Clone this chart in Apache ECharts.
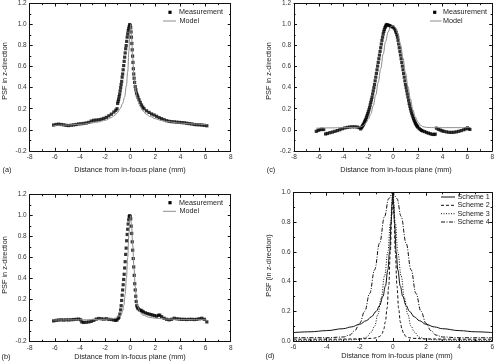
<!DOCTYPE html>
<html>
<head>
<meta charset="utf-8">
<script src="https://cdn.jsdelivr.net/npm/echarts@6/dist/echarts.min.js"></script>
<style>
  html, body { margin: 0; padding: 0; background: #fff; }
  #chart { width: 497px; height: 364px; }
</style>
</head>
<body>
<div id="chart"></div>
<script>
// (a) measurement / model
const measA = [
  [-6.1,0.045],[-5.9,0.05],[-5.7,0.053],[-5.5,0.05],[-5.3,0.047],[-5.1,0.042],[-4.9,0.04],[-4.7,0.043],
  [-4.5,0.046],[-4.3,0.05],[-4.1,0.055],[-3.9,0.057],[-3.7,0.06],[-3.5,0.064],[-3.3,0.07],[-3.1,0.083],
  [-2.9,0.09],[-2.7,0.092],[-2.5,0.095],[-2.3,0.1],[-2.1,0.108],[-1.9,0.118],[-1.7,0.132],[-1.5,0.148],
  [-1.3,0.168],[-1.15,0.185],[-1.05,0.2],
  [-1.0,0.25],[-0.96,0.27],[-0.92,0.29],[-0.88,0.315],[-0.84,0.34],[-0.8,0.37],[-0.76,0.4],[-0.72,0.43],
  [-0.68,0.46],[-0.64,0.5],[-0.6,0.53],[-0.56,0.57],[-0.52,0.61],[-0.48,0.65],[-0.44,0.69],[-0.4,0.73],
  [-0.36,0.77],[-0.32,0.8],[-0.28,0.84],[-0.24,0.88],[-0.2,0.91],[-0.16,0.94],[-0.12,0.96],[-0.08,0.98],
  [-0.04,1.0],[0,0.99],
  [0.04,0.97],[0.07,0.93],[0.1,0.88],[0.13,0.82],[0.16,0.76],[0.19,0.7],[0.22,0.64],[0.25,0.58],
  [0.28,0.53],[0.31,0.49],[0.35,0.45],[0.4,0.41],[0.45,0.38],[0.5,0.35],[0.56,0.33],[0.62,0.31],
  [0.7,0.285],[0.8,0.26],[0.9,0.235],[1.0,0.215],[1.1,0.2],[1.3,0.18],[1.5,0.165],[1.7,0.15],
  [1.9,0.14],[2.1,0.128],[2.3,0.115],[2.5,0.105],[2.7,0.095],[2.9,0.086],[3.1,0.08],[3.3,0.077],
  [3.5,0.075],[3.7,0.072],[3.9,0.07],[4.1,0.068],[4.3,0.066],[4.5,0.062],[4.7,0.058],[4.9,0.055],
  [5.1,0.05],[5.3,0.048],[5.5,0.047],[5.7,0.045],[5.9,0.042],[6.1,0.038]
];
const modelA = [
  [-6.1,0.04],[-5,0.045],[-4,0.052],[-3,0.065],[-2.5,0.075],[-2,0.09],[-1.5,0.115],[-1.2,0.14],
  [-1,0.165],[-0.8,0.2],[-0.6,0.25],[-0.45,0.31],[-0.3,0.42],[-0.2,0.55],[-0.1,0.75],[-0.03,0.93],
  [0.03,1.0],[0.1,0.9],[0.2,0.68],[0.3,0.5],[0.45,0.36],[0.6,0.28],[0.8,0.22],[1,0.18],[1.3,0.145],
  [1.6,0.125],[2,0.105],[2.5,0.088],[3,0.077],[4,0.063],[5,0.055],[6.1,0.048]
];

// (b) measurement / model
const measB = [
  [-6.1,-0.005],[-5.9,0.0],[-5.7,0.003],[-5.5,0.005],[-5.3,0.003],[-5.1,0.005],[-4.9,0.004],[-4.7,0.006],
  [-4.5,0.008],[-4.3,0.01],[-4.1,0.012],[-3.95,0.005],[-3.85,-0.015],[-3.7,-0.02],[-3.5,-0.018],[-3.3,-0.015],
  [-3.1,-0.01],[-2.9,0.0],[-2.7,0.012],[-2.5,0.018],[-2.3,0.015],[-2.1,0.012],[-1.9,0.015],[-1.7,0.01],
  [-1.5,0.008],[-1.3,0.003],[-1.15,0.0],[-1.05,0.005],[-0.95,0.02],
  [-0.9,0.03],[-0.82,0.06],[-0.76,0.1],[-0.72,0.14],[-0.68,0.19],[-0.64,0.24],[-0.6,0.29],[-0.56,0.34],
  [-0.52,0.39],[-0.48,0.44],[-0.44,0.5],[-0.4,0.56],[-0.36,0.63],[-0.32,0.69],[-0.28,0.76],[-0.24,0.82],
  [-0.2,0.87],[-0.16,0.92],[-0.12,0.96],[-0.08,0.99],[-0.04,1.0],[0,0.99],
  [0.04,0.97],[0.08,0.9],[0.12,0.83],[0.16,0.75],[0.2,0.67],[0.24,0.59],[0.28,0.51],[0.32,0.43],
  [0.36,0.35],[0.4,0.29],[0.44,0.23],[0.48,0.18],[0.52,0.14],[0.58,0.12],[0.65,0.11],[0.75,0.1],
  [0.85,0.095],[0.95,0.088],[1.05,0.08],[1.2,0.072],[1.35,0.065],[1.5,0.06],[1.65,0.055],[1.8,0.05],
  [1.95,0.045],[2.1,0.04],[2.25,0.048],[2.35,0.05],[2.5,0.035],[2.7,0.02],[2.9,0.01],[3.1,0.005],
  [3.3,0.01],[3.5,0.02],[3.7,0.015],[3.9,0.012],[4.1,0.01],[4.3,0.01],[4.5,0.008],[4.7,0.01],
  [4.9,0.01],[5.1,0.008],[5.3,0.01],[5.5,0.015],[5.7,0.02],[5.9,0.01],[6.1,-0.015]
];
const modelB = [
  [-6.1,0.003],[-4,0.005],[-2,0.01],[-1.5,0.015],[-1.2,0.02],[-1,0.03],[-0.85,0.04],[-0.7,0.06],
  [-0.6,0.09],[-0.5,0.15],[-0.4,0.25],[-0.3,0.4],[-0.2,0.6],[-0.1,0.83],[-0.03,0.97],[0.03,1.0],
  [0.1,0.92],[0.2,0.72],[0.3,0.5],[0.4,0.32],[0.5,0.2],[0.6,0.13],[0.8,0.075],[1,0.05],[1.5,0.03],
  [2,0.02],[3,0.012],[4,0.008],[6.1,0.005]
];

// (c) measurement / model
const measC = [
  [-6.2,-0.015],[-6.05,-0.005],[-5.9,0.0],[-5.75,0.005],[-5.6,0.002],
  [-5.45,-0.04],[-5.3,-0.035],[-5.1,-0.028],[-4.9,-0.022],[-4.7,-0.015],[-4.5,-0.008],[-4.3,0.0],
  [-4.1,0.01],[-3.9,0.017],[-3.7,0.022],[-3.5,0.026],[-3.3,0.028],[-3.1,0.028],[-2.9,0.026],
  [-2.75,0.02],[-2.62,0.008],
  [-2.55,0.02],[-2.5,0.03],[-2.45,0.04],[-2.4,0.05],[-2.35,0.062],[-2.3,0.075],[-2.25,0.088],[-2.2,0.1],
  [-2.15,0.118],[-2.1,0.135],[-2.05,0.152],[-2.0,0.17],[-1.95,0.19],[-1.9,0.21],[-1.85,0.235],[-1.8,0.26],
  [-1.75,0.285],[-1.7,0.31],[-1.65,0.34],[-1.6,0.37],[-1.55,0.4],[-1.5,0.43],[-1.45,0.465],[-1.4,0.5],
  [-1.35,0.535],[-1.3,0.57],[-1.25,0.605],[-1.2,0.64],[-1.15,0.675],[-1.1,0.71],[-1.05,0.745],[-1.0,0.78],
  [-0.95,0.815],[-0.9,0.85],[-0.85,0.88],[-0.8,0.91],[-0.75,0.935],[-0.7,0.955],[-0.65,0.972],[-0.6,0.985],
  [-0.55,0.995],[-0.5,1.0],[-0.4,0.995],[-0.3,0.99],[-0.2,0.985],[-0.1,0.98],[0,0.975],[0.1,0.96],
  [0.2,0.94],[0.25,0.925],[0.3,0.905],[0.35,0.88],[0.4,0.85],[0.45,0.815],[0.5,0.78],[0.55,0.745],
  [0.6,0.71],[0.65,0.675],[0.7,0.64],[0.75,0.605],[0.8,0.57],[0.85,0.535],[0.9,0.5],[0.95,0.465],
  [1.0,0.43],[1.05,0.4],[1.1,0.37],[1.15,0.34],[1.2,0.31],[1.25,0.28],[1.3,0.25],[1.35,0.225],
  [1.4,0.2],[1.45,0.178],[1.5,0.158],[1.55,0.14],[1.6,0.122],[1.65,0.105],[1.7,0.09],[1.75,0.076],
  [1.8,0.063],[1.85,0.052],[1.9,0.042],[1.95,0.033],[2.0,0.025],[2.1,0.012],[2.2,0.002],[2.3,-0.006],
  [2.4,-0.012],[2.55,-0.018],[2.7,-0.026],[2.85,-0.032],[3.0,-0.038],[3.15,-0.043],[3.3,-0.045],[3.4,-0.042],
  [3.5,0.015],[3.65,0.005],[3.8,-0.002],[3.95,-0.01],[4.1,-0.015],[4.3,-0.02],[4.5,-0.024],[4.7,-0.025],
  [4.9,-0.024],[5.1,-0.02],[5.3,-0.015],[5.5,-0.008],[5.7,0.0],[5.85,0.008],[6.0,0.018],[6.1,0.01],[6.2,0.003]
];
const modelC = [
  [-6.2,0.015],[-5,0.018],[-4,0.02],[-3,0.022],[-2.6,0.028],[-2.4,0.04],[-2.2,0.065],[-2.0,0.1],
  [-1.8,0.15],[-1.6,0.23],[-1.4,0.33],[-1.2,0.45],[-1.0,0.58],[-0.8,0.72],[-0.6,0.84],[-0.4,0.93],
  [-0.2,0.98],[0,0.99],[0.2,0.97],[0.4,0.91],[0.6,0.81],[0.8,0.68],[1.0,0.54],[1.2,0.41],[1.4,0.29],
  [1.6,0.19],[1.8,0.12],[2.0,0.075],[2.2,0.045],[2.4,0.03],[2.7,0.022],[3.5,0.02],[4.5,0.02],
  [5.5,0.02],[6.2,0.02]
];

// (d) schemes
const scheme1 = [
  [-6,0.057],[-5,0.062],[-4,0.07],[-3,0.083],[-2.5,0.095],[-2,0.113],[-1.6,0.137],[-1.3,0.163],
  [-1,0.2],[-0.8,0.24],[-0.6,0.3],[-0.45,0.37],[-0.3,0.48],[-0.2,0.6],[-0.1,0.8],[-0.05,0.92],[0,1.0],
  [0.05,0.92],[0.1,0.8],[0.2,0.6],[0.3,0.48],[0.45,0.37],[0.6,0.3],[0.8,0.24],[1,0.2],[1.3,0.163],
  [1.6,0.137],[2,0.113],[2.5,0.095],[3,0.083],[4,0.07],[5,0.062],[6,0.057]
];
const scheme2 = [
  [-6,0.012],[-4,0.012],[-2,0.014],[-1.2,0.018],[-1,0.022],[-0.8,0.03],[-0.65,0.05],[-0.55,0.08],
  [-0.45,0.13],[-0.35,0.22],[-0.25,0.37],[-0.15,0.6],[-0.07,0.85],[0,1.0],
  [0.07,0.85],[0.15,0.6],[0.25,0.37],[0.35,0.22],[0.45,0.13],[0.55,0.08],[0.65,0.05],[0.8,0.03],
  [1,0.022],[1.2,0.018],[2,0.014],[4,0.012],[6,0.012]
];
const scheme3 = [
  [-6,0.004],[-4,0.005],[-2.5,0.008],[-2,0.012],[-1.6,0.025],[-1.3,0.06],[-1.1,0.1],[-0.9,0.18],
  [-0.7,0.29],[-0.5,0.44],[-0.3,0.6],[-0.15,0.8],[0,1.0],
  [0.15,0.8],[0.3,0.6],[0.5,0.44],[0.7,0.29],[0.9,0.18],[1.1,0.1],[1.3,0.06],[1.6,0.025],[2,0.012],
  [2.5,0.008],[4,0.005],[6,0.004]
];
const scheme4 = [
  [-6,0.022],[-4,0.022],[-3,0.027],[-2.6,0.04],[-2.3,0.07],[-2,0.12],[-1.7,0.2],[-1.4,0.32],
  [-1.1,0.48],[-0.8,0.66],[-0.5,0.84],[-0.25,0.96],[0,1.0],
  [0.25,0.96],[0.5,0.84],[0.8,0.66],[1.1,0.48],[1.4,0.32],[1.7,0.2],[2,0.12],[2.3,0.07],[2.6,0.04],
  [3,0.027],[4,0.022],[6,0.022]
];

const FONT = 'Liberation Sans, Arial, sans-serif';

const grids = [
  { left: 29.7, top: 3.3, width: 201, height: 147.5 },   // a
  { left: 29.7, top: 194.7, width: 201, height: 146.6 }, // b
  { left: 294, top: 3.3, width: 200, height: 147.5 },    // c
  { left: 293.5, top: 192.7, width: 200, height: 148.3 } // d
];
const xRange = [[-8, 8], [-8, 8], [-8, 8], [-6, 6]];
const yRange = [[-0.2, 1.2], [-0.2, 1.2], [-0.2, 1.2], [0, 1.0]];

function axisBase(showLabel, fmt) {
  return {
    type: 'value',
    axisLine: { show: true, onZero: false, lineStyle: { color: '#111', width: 1 } },
    axisTick: { show: true, inside: true, length: 3, lineStyle: { color: '#111', width: 1 } },
    minorTick: { show: true, splitNumber: 2, length: 1.6, lineStyle: { color: '#111', width: 1 } },
    splitLine: { show: false },
    axisLabel: { show: showLabel, fontSize: 6.5, color: '#333', fontFamily: FONT, margin: 3, formatter: fmt }
  };
}

const xAxis = [], yAxis = [];
grids.forEach((g, i) => {
  ['bottom', 'top'].forEach(pos => {
    xAxis.push(Object.assign(axisBase(pos === 'bottom', v => String(v)), {
      gridIndex: i, position: pos, min: xRange[i][0], max: xRange[i][1], interval: 2
    }));
  });
  ['left', 'right'].forEach(pos => {
    yAxis.push(Object.assign(axisBase(pos === 'left', v => v.toFixed(1)), {
      gridIndex: i, position: pos, min: yRange[i][0], max: yRange[i][1], interval: 0.2
    }));
  });
});

function meas(name, data, gi) {
  return { name, type: 'scatter', data, xAxisIndex: gi * 2, yAxisIndex: gi * 2,
    symbol: 'rect', symbolSize: 3.2, itemStyle: { color: '#000' }, silent: true };
}
function curve(name, data, gi, color, dash) {
  return { name, type: 'line', data, xAxisIndex: gi * 2, yAxisIndex: gi * 2,
    showSymbol: false, smooth: 0.4, smoothMonotone: 'x', silent: true,
    lineStyle: { color, width: 1, type: dash || 'solid' } };
}

const series = [
  curve('Model', modelA, 0, '#8c8c8c'), meas('Measurement', measA, 0),
  curve('Model', modelB, 1, '#8c8c8c'), meas('Measurement', measB, 1),
  curve('Model', modelC, 2, '#8c8c8c'), meas('Measurement', measC, 2),
  curve('Scheme 1', scheme1, 3, '#111'),
  curve('Scheme 2', scheme2, 3, '#111', [3, 2]),
  curve('Scheme 3', scheme3, 3, '#111', [1, 1.5]),
  curve('Scheme 4', scheme4, 3, '#111', [4, 1.5, 1, 1.5])
];

function txt(text, x, y, opts) {
  return Object.assign({ type: 'text', x, y, silent: true,
    style: { text, fontSize: 7.3, fontFamily: FONT, fill: '#222', align: 'center', verticalAlign: 'middle' } }, opts || {});
}
function ltxt(text, x, y) {
  return { type: 'text', x, y, silent: true,
    style: { text, fontSize: 7.2, fontFamily: FONT, fill: '#222', align: 'left', verticalAlign: 'middle' } };
}
function sq(x, y) {
  return { type: 'rect', silent: true, shape: { x: x - 1.6, y: y - 1.6, width: 3.2, height: 3.2 }, style: { fill: '#000' } };
}
function ln(x1, x2, y, color, dash) {
  return { type: 'line', silent: true, shape: { x1, y1: y, x2, y2: y },
    style: { stroke: color, lineWidth: 1, lineDash: dash || null } };
}

const graphic = [
  // axis titles + panel labels
  txt('Distance from in-focus plane (mm)', 130, 170),
  txt('Distance from in-focus plane (mm)', 130, 357),
  txt('Distance from in-focus plane (mm)', 396, 170),
  txt('Distance from in-focus plane (mm)', 397, 356),
  txt('PSF in z-direction', 5, 71, { rotation: Math.PI / 2 }),
  txt('PSF in z-direction', 5, 265, { rotation: Math.PI / 2 }),
  txt('PSF in z-direction', 269, 71, { rotation: Math.PI / 2 }),
  txt('PSF (in z-direction)', 269, 265.5, { rotation: Math.PI / 2 }),
  txt('(a)', 7, 170), txt('(b)', 6, 357), txt('(c)', 271, 170), txt('(d)', 270, 356),
  // legends
  sq(170, 12.3), ltxt('Measurement', 179, 12.3), ln(163, 176, 21, '#8c8c8c'), ltxt('Model', 179.5, 21),
  sq(170, 202.7), ltxt('Measurement', 179, 202.7), ln(163, 176, 211.3, '#8c8c8c'), ltxt('Model', 179.5, 211.3),
  sq(434.7, 12.3), ltxt('Measurement', 443, 12.3), ln(430, 441.5, 21, '#8c8c8c'), ltxt('Model', 443, 21),
  ln(441, 455, 197, '#111'), ltxt('Scheme 1', 457.5, 197),
  ln(441, 455, 205.3, '#111', [3, 2]), ltxt('Scheme 2', 457.5, 205.3),
  ln(441, 455, 213.7, '#111', [1, 1.5]), ltxt('Scheme 3', 457.5, 213.7),
  ln(441, 455, 222, '#111', [4, 1.5, 1, 1.5]), ltxt('Scheme 4', 457.5, 222)
];

const chart = echarts.init(document.getElementById('chart'), null, { renderer: 'canvas' });
chart.setOption({
  animation: false,
  backgroundColor: '#fff',
  grid: grids,
  xAxis,
  yAxis,
  series,
  graphic
});
</script>
</body>
</html>
